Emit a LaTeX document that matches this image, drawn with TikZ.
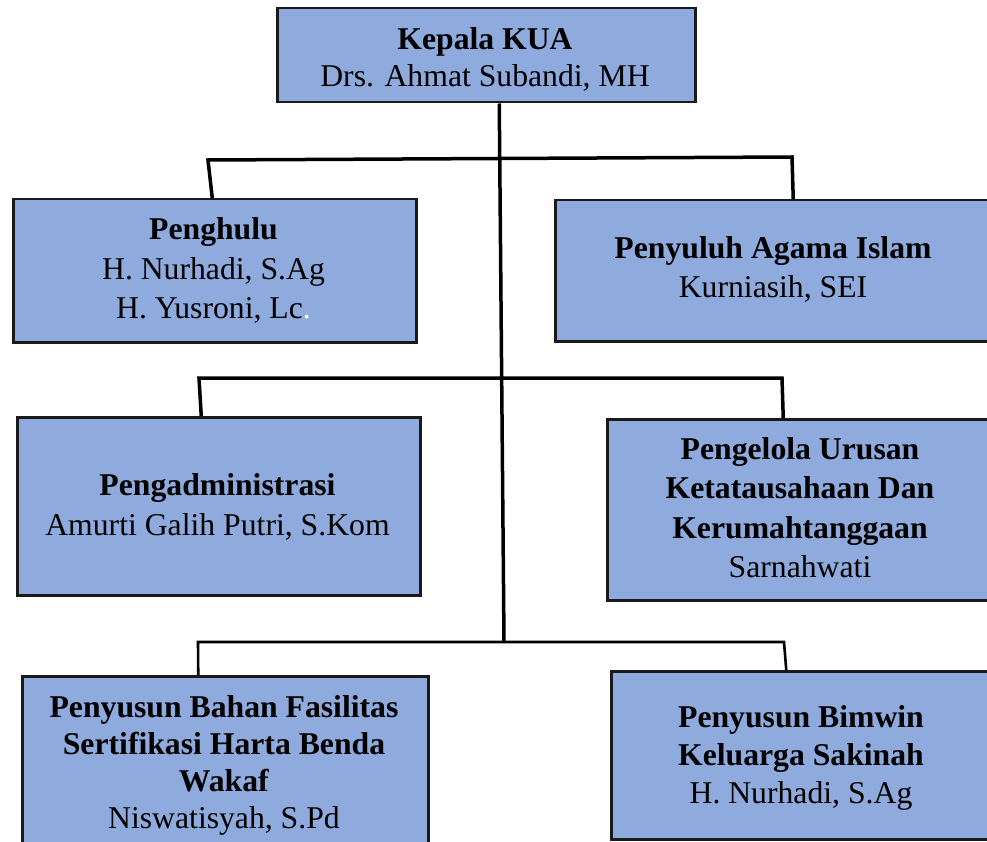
\documentclass[tikz,border=0pt]{standalone}
\usepackage{fontspec}
\setmainfont{Liberation Serif}[Ligatures=NoCommon]
\definecolor{boxfill}{HTML}{8FAADC}
\definecolor{boxline}{HTML}{1A1A1A}
\begin{document}
\begin{tikzpicture}[x=1pt,y=-1pt,
  box/.style={draw=boxline, fill=boxfill, line width=2.5pt, inner sep=0pt, anchor=north west},
  lbl/.style={anchor=north, align=center, inner sep=0pt, text=black},
  conn/.style={line width=3.5pt, line join=miter, draw=black},
  connthin/.style={line width=2.6pt, line join=miter, draw=black}]
\useasboundingbox (0,0) rectangle (987,842);
\clip (0,0) rectangle (987,842);

% boxes
\node[box, minimum width=418pt, minimum height=94pt] (kua) at (276,7) {};
\node[box, minimum width=403pt, minimum height=143pt] (pgh) at (12,198) {};
\node[box, minimum width=438pt, minimum height=141pt] (pny) at (554,199) {};
\node[box, minimum width=403pt, minimum height=178pt] (pad) at (16,416) {};
\node[box, minimum width=388pt, minimum height=181pt] (pgl) at (606,418) {};
\node[box, minimum width=406pt, minimum height=180pt] (wkf) at (21,675) {};
\node[box, minimum width=382pt, minimum height=168pt] (bmw) at (610,670) {};

% texts
\node[lbl, font={\fontsize{31.7}{37}\selectfont}] (kuat) at (485,27.5)
  {\textbf{Kepala KUA}\\Drs. Ahmat Subandi, MH};
\node[lbl, font={\fontsize{31.7}{39.5}\selectfont}] (pght) at (213.5,217.5)
  {\textbf{Penghulu}\\H. Nurhadi, S.Ag\\H. Yusroni, Lc\textcolor{white}{.}};
\node[lbl, font={\fontsize{31.7}{39}\selectfont}] (pnyt) at (773,236.5)
  {\textbf{Penyuluh Agama Islam}\\Kurniasih, SEI};
\node[lbl, font={\fontsize{31.7}{40}\selectfont}] (padt) at (217.5,473.5)
  {\textbf{Pengadministrasi}\\Amurti Galih Putri, S.Kom};
\node[lbl, font={\fontsize{31.7}{39.3}\selectfont}] (pglt) at (800,437.5)
  {\textbf{Pengelola Urusan}\\\textbf{Ketatausahaan Dan}\\\textbf{Kerumahtanggaan}\\Sarnahwati};
\node[lbl, font={\fontsize{31.7}{37}\selectfont}] (wkft) at (224,695.5)
  {\textbf{Penyusun Bahan Fasilitas}\\\textbf{Sertifikasi Harta Benda}\\\textbf{Wakaf}\\Niswatisyah, S.Pd};
\node[lbl, font={\fontsize{31.7}{38}\selectfont}] (bmwt) at (801,705.5)
  {\textbf{Penyusun Bimwin}\\\textbf{Keluarga Sakinah}\\H. Nurhadi, S.Ag};

% connectors
\coordinate (j3) at (504,642);
\draw[conn] ([xshift=13pt]kua.south) -- (j3);
\draw[conn] ([xshift=-2.5pt]pgh.north) -- (208,160) -- (792,157) -- ([xshift=19pt]pny.north);
\draw[conn] ([xshift=-17.5pt]pad.north) -- (199,378) -- (782,378) -- ([xshift=-18pt]pgl.north);
\draw[connthin] ([xshift=-27pt]wkf.north) -- (198,642) -- (784,642) -- ([xshift=-16pt]bmw.north);
\end{tikzpicture}
\end{document}
